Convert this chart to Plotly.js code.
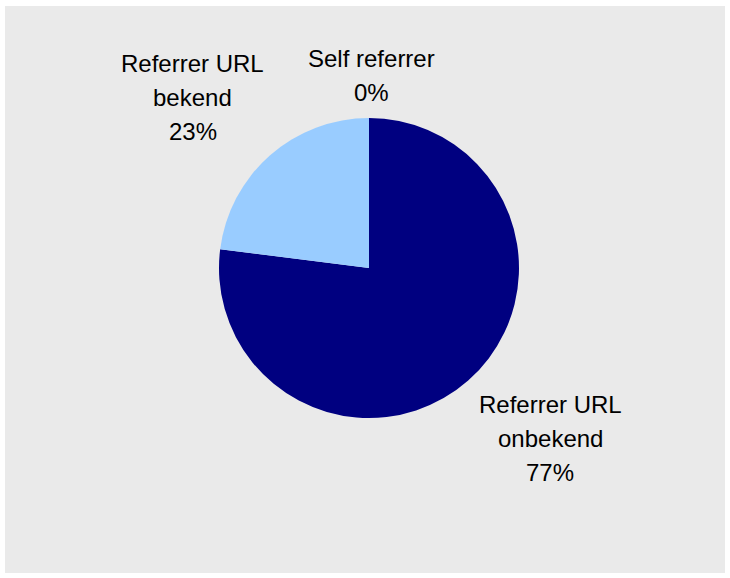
<!DOCTYPE html>
<html>
<head>
<meta charset="utf-8">
<script src="https://cdn.plot.ly/plotly-3.0.1.min.js"></script>
<style>
html,body{margin:0;padding:0;background:#ffffff;}
#chart{width:730px;height:578px;}
</style>
</head>
<body>
<div id="chart"></div>
<script>
var categories = ["Referrer URL onbekend", "Referrer URL bekend", "Self referrer"];
var labelLines = [["Referrer URL", "onbekend"], ["Referrer URL", "bekend"], ["Self referrer"]];
var values = [77, 23, 0];
var colors = ["#000080", "#99ccff", "#ffffff"];

var total = values.reduce(function(a,b){return a+b;}, 0);
function lines(i){
  return labelLines[i].concat([Math.round(values[i]/total*100) + "%"]);
}

// label block positions (pixel centre x, first-line centre y) and line spacing
var labelPos = [
  {x: 550, y: 404.6},
  {x: 192.5, y: 63.6},
  {x: 371, y: 58.6}
];
var lineStep = 34;
var W = 730, H = 578;

var annotations = [];
categories.forEach(function(c, i){
  lines(i).forEach(function(t, k){
    annotations.push({
      xref: "paper", yref: "paper",
      x: labelPos[i].x / W, y: 1 - (labelPos[i].y + k*lineStep) / H,
      xanchor: "center", yanchor: "middle",
      text: t,
      showarrow: false,
      align: "center",
      font: {family: "Liberation Sans, Arial, sans-serif", size: 24, color: "#000000"}
    });
  });
});

var trace = {
  type: "pie",
  labels: categories,
  values: values,
  sort: false,
  direction: "clockwise",
  rotation: 0,
  textinfo: "none",
  hoverinfo: "label+percent",
  marker: {colors: colors, line: {width: 0}},
  domain: {x: [219/W, 519/W], y: [160/H, 460/H]},
  showlegend: false
};

var layout = {
  width: W, height: H,
  margin: {l: 0, r: 0, t: 0, b: 0},
  paper_bgcolor: "#ffffff",
  shapes: [{
    type: "rect", xref: "paper", yref: "paper",
    x0: 5/W, x1: 725/W, y0: 1 - 573/H, y1: 1 - 6/H,
    fillcolor: "#eaeaea", line: {width: 0}, layer: "below"
  }],
  annotations: annotations,
  showlegend: false
};

Plotly.newPlot("chart", [trace], layout, {displayModeBar: false, staticPlot: true});
</script>
</body>
</html>
